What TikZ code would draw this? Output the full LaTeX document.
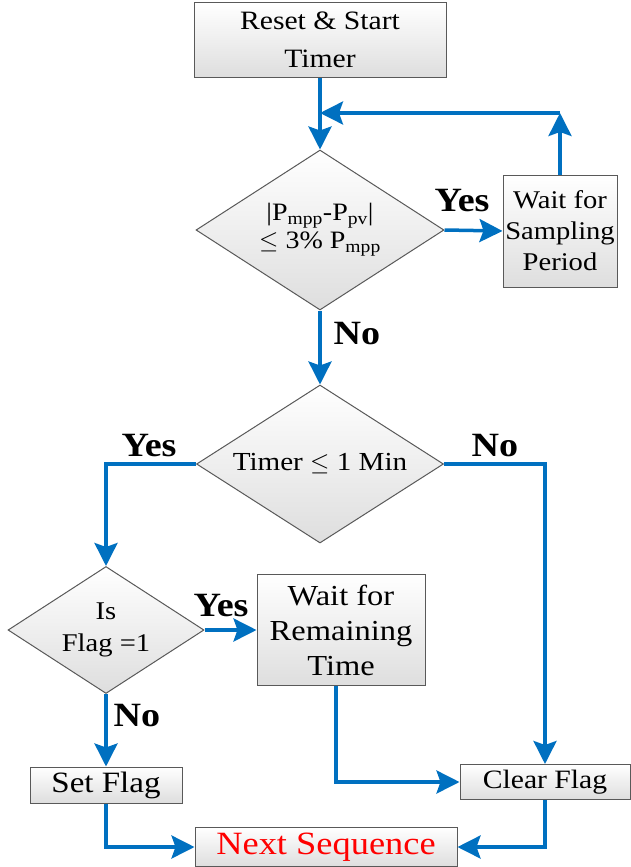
\documentclass[tikz,border=0pt]{standalone}
\usepackage{fontspec}
\setmainfont{Liberation Serif}[FakeStretch=1.12]
\usetikzlibrary{arrows.meta,shapes.geometric,shadings}
\definecolor{flowblue}{HTML}{0070C0}
\begin{document}
\begin{tikzpicture}[x=1pt,y=-1pt,
  boxbase/.style={draw=black!65, line width=1pt, top color=white, bottom color=black!13,
    inner sep=0pt, align=center, font=\fontsize{26}{32}\selectfont},
  procbox/.style={boxbase, rectangle, minimum width=#1},
  decbox/.style={boxbase, diamond, aspect=1.5},
  flow/.style={draw=flowblue, line width=3.5pt, -{Stealth[length=23pt,width=23pt,inset=4pt]}},
  lbl/.style={font=\fontsize{34}{38}\selectfont\bfseries, inner sep=0pt}
]
\useasboundingbox (0,0) rectangle (630,867);

% nodes
\node[procbox=252pt, minimum height=74pt, font=\fontsize{26.5}{38}\selectfont] (reset) at (320,40) {Reset \& Start\\Timer};
\node[decbox, minimum width=248pt, minimum height=160pt, font=\fontsize{25}{28}\selectfont] (d1) at (320,230)
  {|P\textsubscript{mpp}-P\textsubscript{pv}|\\$\leq$ 3\% P\textsubscript{mpp}};
\node[procbox=114pt, minimum height=112pt, font=\fontsize{25.5}{31}\selectfont] (wait) at (560,231)
  {Wait for\\Sampling\\Period};
\node[decbox, minimum width=247pt, minimum height=158pt, font=\fontsize{26}{30}\selectfont] (d2) at (320,464) {Timer $\leq$ 1 Min};
\node[decbox, minimum width=196pt, minimum height=127pt, font=\fontsize{25.5}{32}\selectfont] (flag) at (106,630) {Is\\Flag =1};
\node[procbox=168pt, minimum height=111pt, font=\fontsize{29}{35}\selectfont] (remain) at (341,630)
  {Wait for\\Remaining\\Time};
\node[procbox=152pt, minimum height=36pt, font=\fontsize{29.5}{32}\selectfont] (setf) at (106,785) {Set Flag};
\node[procbox=170pt, minimum height=35pt, font=\fontsize{26.5}{32}\selectfont] (clear) at (545,782) {Clear Flag};
\node[procbox=262pt, minimum height=39pt, text=red, font=\fontsize{32.5}{34}\selectfont] (next) at (326,847)
  {Next Sequence};

\coordinate (loopc) at (560,113);
\coordinate (join) at (320,113);

% connectors
\draw[flow] (reset.south) -- (d1.north);
\draw[flow] (wait.north) -- (loopc);
\draw[flow] (loopc) -- (join);
\draw[flow] (d1.east) -- (wait.west);
\draw[flow] (d1.south) -- (d2.north);
\draw[flow] (d2.west) -| (flag.north);
\draw[flow] (d2.east) -| (clear.north);
\draw[flow] (flag.east) -- (remain.west);
\draw[flow] (flag.south) -- (setf.north);
\draw[flow] ([xshift=-5pt]remain.south) |- (clear.west);
\draw[flow] (setf.south) |- (next.west);
\draw[flow] (clear.south) |- (next.east);

% labels
\node[lbl] (yes1) at (462,201) {Yes};
\node[lbl] (no1) at (357,334) {No};
\node[lbl] (yes2) at (149,446) {Yes};
\node[lbl] (no2) at (495,446) {No};
\node[lbl] (yes3) at (221,606) {Yes};
\node[lbl] (no3) at (137,716) {No};
\end{tikzpicture}
\end{document}
